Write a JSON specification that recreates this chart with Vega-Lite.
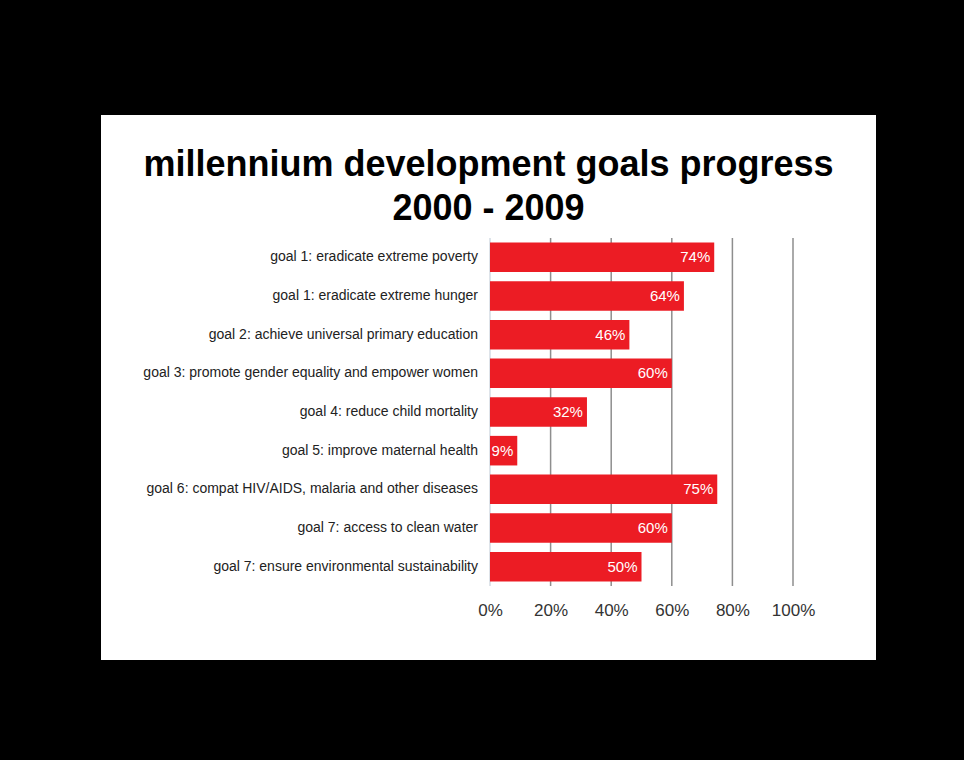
{
  "$schema": "https://vega.github.io/schema/vega-lite/v6.json",
  "width": 775,
  "height": 545,
  "autosize": {"type": "none"},
  "padding": {"left": 101, "top": 115, "right": 88, "bottom": 100},
  "background": "black",
  "config": {
    "view": {"fill": "white", "stroke": null},
    "font": "Liberation Sans"
  },
  "title": {
    "text": ["millennium development goals progress", "2000 - 2009"],
    "fontSize": 36,
    "font": "Liberation Sans",
    "fontWeight": "bold",
    "color": "black",
    "anchor": "middle",
    "frame": "group",
    "offset": -113,
    "lineHeight": 44
  },
  "datasets": {
    "goals": [
      {"goal": "goal 1: eradicate extreme poverty", "pct": 0.74},
      {"goal": "goal 1: eradicate extreme hunger", "pct": 0.64},
      {"goal": "goal 2: achieve universal primary education", "pct": 0.46},
      {"goal": "goal 3: promote gender equality and empower women", "pct": 0.60},
      {"goal": "goal 4: reduce child mortality", "pct": 0.32},
      {"goal": "goal 5: improve maternal health", "pct": 0.09},
      {"goal": "goal 6: compat HIV/AIDS, malaria and other diseases", "pct": 0.75},
      {"goal": "goal 7: access to clean water", "pct": 0.60},
      {"goal": "goal 7: ensure environmental sustainability", "pct": 0.50}
    ],
    "grid": [{"v": 0}, {"v": 0.2}, {"v": 0.4}, {"v": 0.6}, {"v": 0.8}, {"v": 1.0}]
  },
  "layer": [
    {
      "data": {"name": "grid"},
      "mark": {"type": "rule", "strokeWidth": 1.5},
      "encoding": {
        "x": {"field": "v", "type": "quantitative", "title": null,
              "scale": {"domain": [-1.2838, 1.2739], "nice": false, "zero": false},
              "axis": {"orient": "bottom", "offset": -58, "values": [0, 0.2, 0.4, 0.6, 0.8, 1.0],
                       "format": ".0%", "grid": false, "domain": false, "ticks": false,
                       "labelFontSize": 17, "labelColor": "#333333", "labelPadding": 0, "title": null}},
        "y": {"datum": "goal 1: eradicate extreme poverty", "type": "nominal", "bandPosition": -0.153,
              "axis": null,
              "scale": {"domain": [
                "goal 1: eradicate extreme poverty",
                "goal 1: eradicate extreme hunger",
                "goal 2: achieve universal primary education",
                "goal 3: promote gender equality and empower women",
                "goal 4: reduce child mortality",
                "goal 5: improve maternal health",
                "goal 6: compat HIV/AIDS, malaria and other diseases",
                "goal 7: access to clean water",
                "goal 7: ensure environmental sustainability"
              ], "range": [123, 471], "paddingInner": 0.235, "paddingOuter": 0.1175}},
        "y2": {"datum": "goal 7: ensure environmental sustainability", "bandPosition": 1.153},
        "stroke": {"condition": {"test": "datum.v === 0", "value": "#d3dbe3"}, "value": "#8e8e8e"}
      }
    },
    {
      "data": {"name": "goals"},
      "mark": {"type": "bar", "color": "#ec1c24"},
      "encoding": {
        "y": {"field": "goal", "type": "nominal", "sort": null, "axis": null},
        "x": {"field": "pct", "type": "quantitative", "title": null,
              "axis": {"orient": "bottom", "offset": -58, "values": [0, 0.2, 0.4, 0.6, 0.8, 1.0],
                       "format": ".0%", "grid": false, "domain": false, "ticks": false,
                       "labelFontSize": 17, "labelColor": "#333333", "labelPadding": 0, "title": null}},
        "x2": {"datum": 0}
      }
    },
    {
      "data": {"name": "goals"},
      "mark": {"type": "text", "align": "right", "baseline": "middle", "dx": -4, "fontSize": 15, "color": "white"},
      "encoding": {
        "y": {"field": "goal", "type": "nominal", "sort": null, "axis": null},
        "x": {"field": "pct", "type": "quantitative", "title": null,
              "axis": {"orient": "bottom", "offset": -58, "values": [0, 0.2, 0.4, 0.6, 0.8, 1.0],
                       "format": ".0%", "grid": false, "domain": false, "ticks": false,
                       "labelFontSize": 17, "labelColor": "#333333", "labelPadding": 0, "title": null}},
        "text": {"field": "pct", "type": "quantitative", "format": ".0%"}
      }
    },
    {
      "data": {"name": "goals"},
      "mark": {"type": "text", "align": "right", "baseline": "middle", "dx": -12, "fontSize": 14, "color": "#222222"},
      "encoding": {
        "y": {"field": "goal", "type": "nominal", "sort": null, "axis": null},
        "x": {"datum": 0, "type": "quantitative", "title": null,
              "axis": {"orient": "bottom", "offset": -58, "values": [0, 0.2, 0.4, 0.6, 0.8, 1.0],
                       "format": ".0%", "grid": false, "domain": false, "ticks": false,
                       "labelFontSize": 17, "labelColor": "#333333", "labelPadding": 0, "title": null}},
        "text": {"field": "goal", "type": "nominal"}
      }
    }
  ]
}
